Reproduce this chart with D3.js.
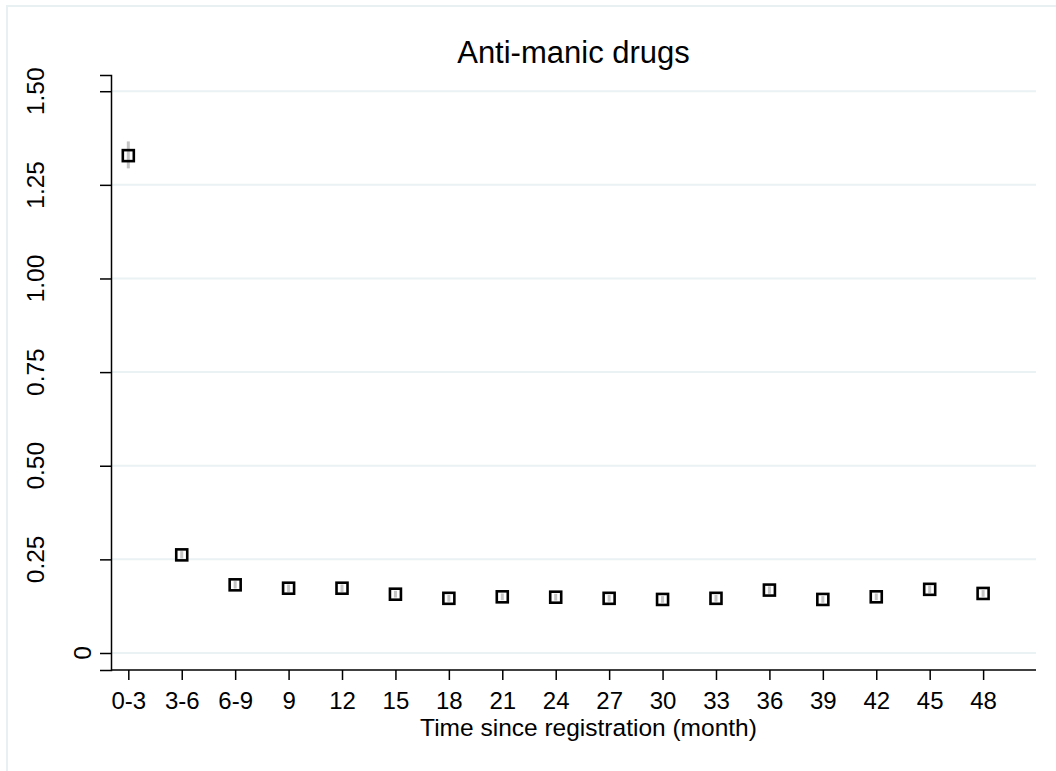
<!DOCTYPE html>
<html>
<head>
<meta charset="utf-8">
<script src="https://cdn.jsdelivr.net/npm/d3@7"></script>
<style>
  body { margin: 0; background: #fff; }
  text { font-family: "Liberation Sans", Arial, sans-serif; fill: #000; }
</style>
</head>
<body>
<script>
var categories = ["0-3","3-6","6-9","9","12","15","18","21","24","27","30","33","36","39","42","45","48"];
var estimates = [1.328, 0.262, 0.182, 0.173, 0.173, 0.157, 0.146, 0.150, 0.149, 0.146, 0.143, 0.146, 0.168, 0.143, 0.150, 0.170, 0.159];
var lower = [1.294, 0.252, 0.172, 0.163, 0.163, 0.148, 0.137, 0.141, 0.140, 0.137, 0.134, 0.137, 0.158, 0.134, 0.141, 0.160, 0.150];
var upper = [1.366, 0.272, 0.192, 0.183, 0.183, 0.166, 0.155, 0.159, 0.158, 0.155, 0.152, 0.155, 0.178, 0.152, 0.159, 0.180, 0.168];
var yTicks = [0, 0.25, 0.5, 0.75, 1, 1.25, 1.5];
var yTickLabels = ["0", "0.25", "0.50", "0.75", "1.00", "1.25", "1.50"];

var w = 1056, h = 771;
var plot = {left: 111, right: 1036, top: 75, bottom: 670};

var svg = d3.select("body").append("svg")
    .attr("width", w)
    .attr("height", h);

// outer frame
svg.append("rect")
    .attr("x", 7).attr("y", 6)
    .attr("width", w).attr("height", h)
    .attr("fill", "none")
    .attr("stroke", "#e8f0f2")
    .attr("stroke-width", 2);

var x = d3.scaleLinear()
    .domain([-0.324, 16.99])
    .range([plot.left, plot.right]);

var y = d3.scaleLinear()
    .domain([-0.0454, 1.5433])
    .range([plot.bottom, plot.top]);

// gridlines
svg.append("g").selectAll("line")
    .data(yTicks)
    .enter()
    .append("line")
    .attr("x1", plot.left).attr("x2", plot.right)
    .attr("y1", d => y(d)).attr("y2", d => y(d))
    .attr("stroke", "#eaf2f3")
    .attr("stroke-width", 2);

// y axis
var yAxis = d3.axisLeft(y)
    .tickValues(yTicks)
    .tickSize(11)
    .tickFormat("");
var gy = svg.append("g")
    .attr("transform", "translate(" + plot.left + ",0)")
    .call(yAxis);
gy.select(".domain").attr("stroke", "#000").attr("stroke-width", 1.5);
gy.selectAll(".tick line").attr("stroke", "#000").attr("stroke-width", 1.5);

// rotated y labels (placed like Stata: horizontal text length pushes the label out)
var ylab = svg.append("g").selectAll("text")
    .data(yTicks)
    .enter()
    .append("text")
    .attr("font-size", 24.5)
    .attr("text-anchor", "middle")
    .text((d, i) => yTickLabels[i]);
ylab.each(function(d) {
    var tw = this.getComputedTextLength();
    var bx = 110.3 - 1.4 * tw;
    d3.select(this).attr("transform", "translate(" + bx + "," + y(d) + ") rotate(-90)");
});

// x axis
var xAxis = d3.axisBottom(x)
    .tickValues(d3.range(categories.length))
    .tickSize(10)
    .tickPadding(5)
    .tickFormat(i => categories[i]);
var gx = svg.append("g")
    .attr("transform", "translate(0," + plot.bottom + ")")
    .call(xAxis);
gx.select(".domain").attr("stroke", "#000").attr("stroke-width", 1.5)
    .attr("d", "M" + plot.left + ",0H" + plot.right);
gx.selectAll(".tick line").attr("stroke", "#000").attr("stroke-width", 1.5);
gx.selectAll(".tick text")
    .attr("font-size", 24)
    .attr("font-family", "Liberation Sans, Arial, sans-serif")
    .attr("fill", "#000")
    .attr("dy", null)
    .attr("y", 39);

// confidence intervals
svg.append("g").selectAll("line")
    .data(categories)
    .enter()
    .append("line")
    .attr("x1", (d, i) => x(i)).attr("x2", (d, i) => x(i))
    .attr("y1", (d, i) => y(lower[i])).attr("y2", (d, i) => y(upper[i]))
    .attr("stroke", "#c4c4c4")
    .attr("stroke-width", 3);

// hollow squares
var s = 11;
svg.append("g").selectAll("rect")
    .data(estimates)
    .enter()
    .append("rect")
    .attr("x", (d, i) => x(i) - s / 2)
    .attr("y", d => y(d) - s / 2)
    .attr("width", s).attr("height", s)
    .attr("fill", "none")
    .attr("stroke", "#000")
    .attr("stroke-width", 2.6);

// title
svg.append("text")
    .attr("x", (plot.left + plot.right) / 2)
    .attr("y", 63)
    .attr("text-anchor", "middle")
    .attr("font-size", 31)
    .text("Anti-manic drugs");

// x axis title
svg.append("text")
    .attr("x", (plot.left + plot.right) / 2 + 15)
    .attr("y", 736)
    .attr("text-anchor", "middle")
    .attr("font-size", 24.5)
    .text("Time since registration (month)");
</script>
</body>
</html>
